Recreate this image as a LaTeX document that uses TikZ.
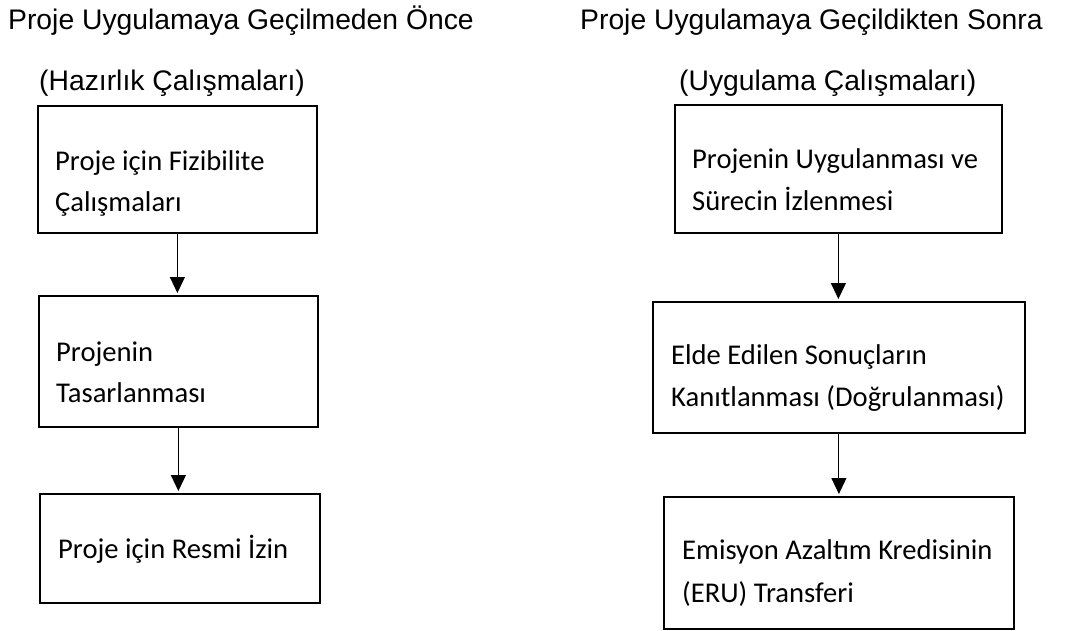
\documentclass[tikz,border=0pt]{standalone}
\usepackage{fontspec}
\setmainfont{Carlito}
\newfontfamily\headfont{Liberation Sans}
\usetikzlibrary{arrows.meta}
\tikzset{
  box/.style={draw=black, line width=1.8pt, inner sep=0pt, anchor=north west},
  head/.style={font=\headfont\fontsize{28.3}{34}\selectfont, anchor=base west, inner sep=0pt},
  txt/.style={font=\fontsize{28.6}{34}\selectfont, anchor=base west, inner sep=0pt},
  arr/.style={-{Triangle[width=15pt,length=16pt]}, line width=1.1pt, shorten >=2pt}
}
\begin{document}
\begin{tikzpicture}[x=1pt,y=-1pt]
\useasboundingbox (0,0) rectangle (1071,630);
% headings
\node[head] (h1) at (8,29) {Proje Uygulamaya Geçilmeden Önce};
\node[head] (h2) at (580,29) {Proje Uygulamaya Geçildikten Sonra};
\node[head] (s1) at (39,90) {(Hazırlık Çalışmaları)};
\node[head] (s2) at (679,90) {(Uygulama Çalışmaları)};
% boxes
\node[box, minimum width=279pt, minimum height=127pt] (b1) at (37,105) {};
\node[box, minimum width=279pt, minimum height=131pt] (b2) at (38,295) {};
\node[box, minimum width=280pt, minimum height=109pt] (b3) at (39,493) {};
\node[box, minimum width=327pt, minimum height=128pt] (b4) at (674,104) {};
\node[box, minimum width=372pt, minimum height=131pt] (b5) at (652,301) {};
\node[box, minimum width=350pt, minimum height=132pt] (b6) at (663,496) {};
% box texts
\node[txt] (t1a) at (55,170) {Proje için Fizibilite};
\node[txt] (t1b) at (55,211) {Çalışmaları};
\node[txt] (t2a) at (56,361) {Projenin};
\node[txt] (t2b) at (56,402) {Tasarlanması};
\node[txt] (t3a) at (58,558) {Proje için Resmi İzin};
\node[txt] (t4a) at (692,168) {Projenin Uygulanması ve};
\node[txt] (t4b) at (692,210) {Sürecin İzlenmesi};
\node[txt] (t5a) at (671,364) {Elde Edilen Sonuçların};
\node[txt] (t5b) at (671,406) {Kanıtlanması (Doğrulanması)};
\node[txt] (t6a) at (682,559) {Emisyon Azaltım Kredisinin};
\node[txt] (t6b) at (682,602) {(ERU) Transferi};
% arrows
\draw[arr] (b1.south) -- (b1.south |- b2.north);
\draw[arr] (b2.south) -- (b2.south |- b3.north);
\draw[arr] (b4.south) -- (b4.south |- b5.north);
\draw[arr] (b5.south) -- (b5.south |- b6.north);
\end{tikzpicture}
\end{document}
